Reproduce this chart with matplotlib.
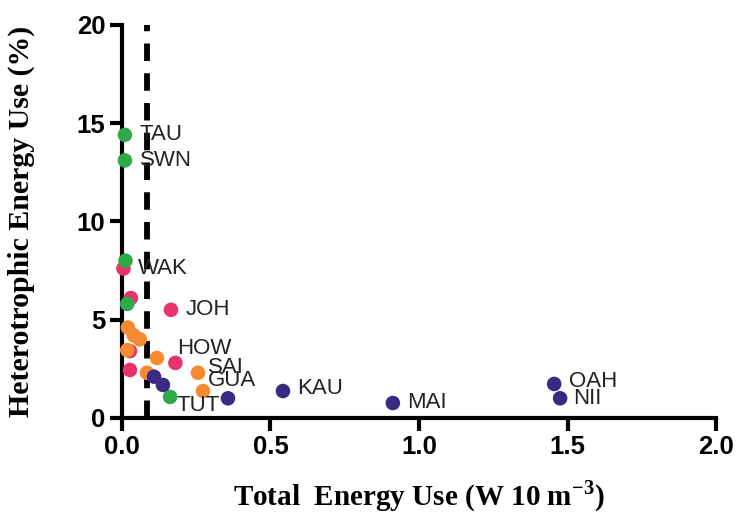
import matplotlib
matplotlib.use("Agg")
import matplotlib.pyplot as plt

# data
green_x = [0.01, 0.01, 0.012, 0.018, 0.162]
green_y = [14.4, 13.1, 8.0, 5.8, 1.07]
pink_x = [0.005, 0.03, 0.165, 0.027, 0.18, 0.027]
pink_y = [7.6, 6.1, 5.5, 3.4, 2.8, 2.44]
orange_x = [0.02, 0.04, 0.06, 0.018, 0.118, 0.084, 0.256, 0.273]
orange_y = [4.6, 4.2, 4.0, 3.45, 3.05, 2.3, 2.3, 1.37]
purple_x = [0.108, 0.138, 0.357, 0.542, 0.912, 1.455, 1.475]
purple_y = [2.1, 1.68, 1.0, 1.37, 0.76, 1.73, 1.0]

labels = ["TAU", "SWN", "WAK", "JOH", "HOW", "SAI", "GUA", "TUT", "KAU", "MAI", "OAH", "NII"]
label_x = [0.06, 0.06, 0.055, 0.215, 0.185, 0.29, 0.29, 0.185, 0.59, 0.96, 1.505, 1.52]
label_y = [14.4, 13.1, 7.6, 5.5, 3.55, 2.55, 1.9, 0.65, 1.5, 0.8, 1.85, 1.0]

threshold = 0.085

fig = plt.figure(figsize=(7.39, 5.16), dpi=100)
ax = fig.add_axes([0.165, 0.19, 0.804, 0.762])

ms = 110
for xs, ys, c in [(pink_x, pink_y, "#e8336a"), (green_x, green_y, "#2eaa4a"),
                  (orange_x, orange_y, "#f58a32"), (purple_x, purple_y, "#3b2a84")]:
    ax.scatter(xs, ys, s=ms, color=c, edgecolors="none", zorder=3, clip_on=False)

ax.axvline(threshold, color="black", lw=4.2, linestyle=(0, (3, 2.1)), zorder=2)

for t, x, y in zip(labels, label_x, label_y):
    ax.text(x, y, t, fontsize=16, family="Liberation Sans", va="center", ha="left", color="#222222")

ax.set_xlim(0, 2)
ax.set_ylim(0, 20)
ax.set_xticks([0, 0.5, 1.0, 1.5, 2.0])
ax.set_xticklabels(["0.0", "0.5", "1.0", "1.5", "2.0"])
ax.set_yticks([0, 5, 10, 15, 20])

for s in ["top", "right"]:
    ax.spines[s].set_visible(False)
for s in ["left", "bottom"]:
    ax.spines[s].set_linewidth(3)

ax.tick_params(axis="both", width=3, length=9, labelsize=18.5, pad=3)
for lab in ax.get_xticklabels() + ax.get_yticklabels():
    lab.set_fontweight("bold")
    lab.set_family("Liberation Sans")

ax.set_xlabel("Total  Energy Use (W 10 m$^{\\mathregular{-3}}$)", fontsize=21, fontweight="bold",
              family="Liberation Serif", labelpad=14)
ax.set_ylabel("Heterotrophic Energy Use (%)", fontsize=21.5, fontweight="bold",
              family="Liberation Serif", labelpad=30)

fig.savefig("out.png", dpi=100)
